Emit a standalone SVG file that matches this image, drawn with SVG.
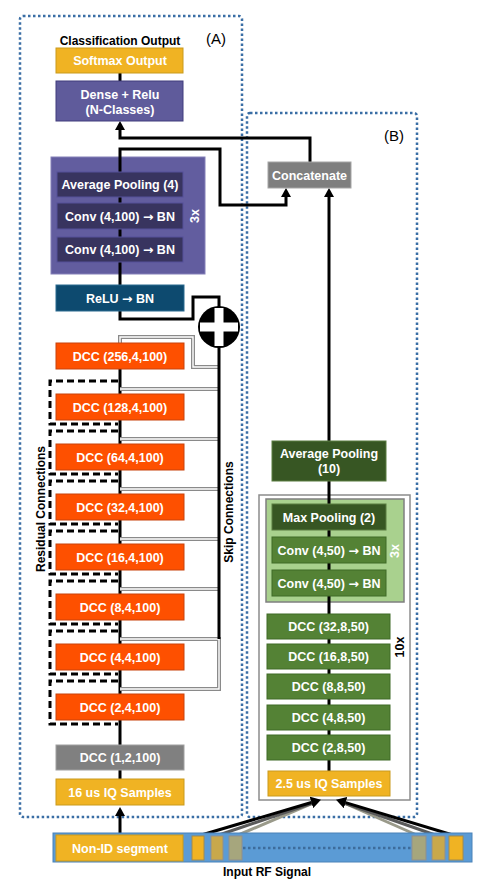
<svg xmlns="http://www.w3.org/2000/svg" width="488" height="886" viewBox="0 0 488 886">
<defs>
<style>
.lbl{font-family:"Liberation Sans",Arial,sans-serif;font-weight:bold;font-size:12.5px;fill:#fff;text-anchor:middle}
.ttl{font-family:"Liberation Sans",Arial,sans-serif;font-weight:bold;font-size:12px;fill:#000;text-anchor:middle}
.tag{font-family:"Liberation Sans",Arial,sans-serif;font-size:15px;fill:#000;text-anchor:middle}
.ar{font-family:"DejaVu Sans",sans-serif;font-weight:bold}
.orange{fill:#fe5000;stroke:#c8420c;stroke-width:1}
.gold{fill:#f0b323;stroke:#c99a1c;stroke-width:1}
.gray{fill:#808080;stroke:#a0a0a0;stroke-width:1}
.dkpurple{fill:#38345f;stroke:#55509a;stroke-width:1}
.purple{fill:#5f5b9b;stroke:#403c7c;stroke-width:1}
.teal{fill:#0d4a6f;stroke:#2a6a90;stroke-width:1}
.green{fill:#548235;stroke:#3f6a27;stroke-width:1}
.dkgreen{fill:#375623;stroke:#5a7d40;stroke-width:1}
.wire{stroke:#000;stroke-width:3;fill:none}
.skip{stroke:#8a8a8a;stroke-width:4;fill:none}
.skipin{stroke:#fff;stroke-width:1.4;fill:none}
.resid{stroke:#000;stroke-width:3;stroke-dasharray:7 4;fill:none}
.dots{fill:none;stroke:#3a6ea5;stroke-width:2.5;stroke-dasharray:2.5 2.5}
</style>
<marker id="arr" markerWidth="10" markerHeight="10" refX="0" refY="5" orient="auto" markerUnits="userSpaceOnUse">
<path d="M0,0 L9,5 L0,10 z" fill="#000"/>
</marker>
<marker id="arrB" markerWidth="12" markerHeight="12" refX="0" refY="6" orient="auto" markerUnits="userSpaceOnUse">
<path d="M0,0 L10,6 L0,12 z" fill="#000"/>
</marker>
</defs>
<rect width="488" height="886" fill="#fff"/>

<g id="frameA"><rect class="dots" x="20" y="16" width="222" height="801" rx="3"/><text class="tag" x="216" y="44">(A)</text></g>
<g id="frameB"><rect class="dots" x="247" y="113" width="170" height="704" rx="3"/><text class="tag" x="394" y="141">(B)</text></g>

<g id="block3xA"><rect x="51" y="157" width="154" height="117" fill="#625d9f" stroke="#8480b8" stroke-width="1"/>
<text class="lbl" transform="translate(199,216) rotate(-90)">3x</text></g>
<g id="containerB"><rect x="259" y="495" width="151" height="305" fill="#fff" stroke="#8c8c8c" stroke-width="1.5"/>
<text class="ttl" style="font-size:12.5px" transform="translate(404,647) rotate(-90)">10x</text></g>
<g id="block3xB"><rect x="266" y="499" width="138" height="103" fill="#a9d18e" stroke="#7f7f7f" stroke-width="1.5"/>
<text class="lbl" transform="translate(399,551) rotate(-90)">3x</text></g>

<g id="connectors">
<path class="wire" d="M120,73 V81"/>
<path class="wire" d="M310,162 V138 H120 V130" marker-end="url(#arr)"/>
<path class="wire" d="M120,285 V149 H220 V205 H286 V197" marker-end="url(#arr)"/>
<path class="wire" d="M329,441 V197" marker-end="url(#arr)"/>
<path class="wire" d="M329,481 V771"/>
<path class="wire" d="M120,311 V319 H193 V297 H219 V307"/>
<path class="wire" d="M120,369 V779"/>
<path class="wire" d="M120,835 V816" marker-end="url(#arr)"/>
<path class="skip" d="M120,343 V337 H193 V367 H219"/>
<path class="skipin" d="M120,343 V337 H193 V367 H219"/>
<path class="skip" d="M120,389 H219 M120,439 H219 M120,489 H219 M120,539 H219 M120,589 H219 M120,639 H219 M120,689 H219 V637"/>
<path class="skipin" d="M120,389 H219 M120,439 H219 M120,489 H219 M120,539 H219 M120,589 H219 M120,639 H219 M120,689 H219 V637"/>
<path class="wire" d="M219,346 V639"/>
<path class="resid" d="M118,381 H50 V424 H118"/>
<path class="resid" d="M118,431 H50 V474 H118"/>
<path class="resid" d="M118,481 H50 V524 H118"/>
<path class="resid" d="M118,531 H50 V574 H118"/>
<path class="resid" d="M118,581 H50 V624 H118"/>
<path class="resid" d="M118,631 H50 V674 H118"/>
<path class="resid" d="M118,681 H50 V724 H118"/>
<text class="ttl" transform="translate(45,509) rotate(-90)">Residual Connections</text>
<text class="ttl" transform="translate(233,512) rotate(-90)">Skip Connections</text>
<path d="M236,836 L313,803" stroke="#9a9a8a" stroke-width="3" fill="none"/>
<path d="M216,836 L313,803" stroke="#5a5a5a" stroke-width="3" fill="none"/>
<path d="M198,836 L311.4,802.5" stroke="#000" stroke-width="3" fill="none" marker-end="url(#arrB)"/>
<path d="M419,836 L344,803" stroke="#9a9a8a" stroke-width="3" fill="none"/>
<path d="M438,836 L344,803" stroke="#5a5a5a" stroke-width="3" fill="none"/>
<path d="M456,836 L345.6,802.6" stroke="#000" stroke-width="3" fill="none" marker-end="url(#arrB)"/>
</g>

<g id="classTitle"><text class="ttl" x="120" y="45">Classification Output</text></g>
<g id="softmax"><rect class="gold" x="56" y="48" width="127" height="25"/><text class="lbl" x="120" y="65">Softmax Output</text></g>
<g id="dense"><rect class="purple" x="56" y="81" width="127" height="40"/><text class="lbl" x="120" y="99">Dense + Relu</text><text class="lbl" x="120" y="114">(N-Classes)</text></g>
<g id="avgpool4"><rect class="dkpurple" x="57" y="172" width="126" height="25"/><text class="lbl" x="120" y="189">Average Pooling (4)</text></g>
<g id="convA1"><rect class="dkpurple" x="57" y="203" width="126" height="26"/><text class="lbl" x="120" y="220.5">Conv (4,100) <tspan class="ar">→</tspan> BN</text></g>
<g id="convA2"><rect class="dkpurple" x="57" y="237" width="126" height="25"/><text class="lbl" x="120" y="254">Conv (4,100) <tspan class="ar">→</tspan> BN</text></g>
<g id="relu"><rect class="teal" x="56" y="285" width="128" height="26"/><text class="lbl" x="120" y="302.5">ReLU <tspan class="ar">→</tspan> BN</text></g>
<g id="plus"><circle cx="219" cy="327" r="21" fill="#000"/><rect x="200" y="322.5" width="38" height="9" fill="#fff"/><rect x="214.5" y="308" width="9" height="38" fill="#fff"/></g>
<g id="dcc256"><rect class="orange" x="56" y="343" width="128" height="26"/><text class="lbl" x="120" y="360.5">DCC (256,4,100)</text></g>
<g id="dcc128"><rect class="orange" x="56" y="394" width="128" height="26"/><text class="lbl" x="120" y="411.5">DCC (128,4,100)</text></g>
<g id="dcc64"><rect class="orange" x="56" y="444" width="128" height="26"/><text class="lbl" x="120" y="461.5">DCC (64,4,100)</text></g>
<g id="dcc32"><rect class="orange" x="56" y="494" width="128" height="26"/><text class="lbl" x="120" y="511.5">DCC (32,4,100)</text></g>
<g id="dcc16"><rect class="orange" x="56" y="544" width="128" height="26"/><text class="lbl" x="120" y="561.5">DCC (16,4,100)</text></g>
<g id="dcc8"><rect class="orange" x="56" y="594" width="128" height="26"/><text class="lbl" x="120" y="611.5">DCC (8,4,100)</text></g>
<g id="dcc4"><rect class="orange" x="56" y="644" width="128" height="26"/><text class="lbl" x="120" y="661.5">DCC (4,4,100)</text></g>
<g id="dcc2"><rect class="orange" x="56" y="694" width="128" height="26"/><text class="lbl" x="120" y="711.5">DCC (2,4,100)</text></g>
<g id="dcc1"><rect class="gray" x="56" y="745" width="128" height="25"/><text class="lbl" x="120" y="762">DCC (1,2,100)</text></g>
<g id="iq16"><rect class="gold" x="56" y="779" width="128" height="26"/><text class="lbl" x="120" y="796.5">16 us IQ Samples</text></g>

<g id="concat"><rect x="268" y="162" width="83" height="26" fill="#7f7f7f" stroke="#a6a6a6" stroke-width="1"/><text class="lbl" x="309.5" y="179.5">Concatenate</text></g>
<g id="avgpool10"><rect class="dkgreen" x="272" y="441" width="114" height="40"/><text class="lbl" x="329" y="458">Average Pooling</text><text class="lbl" x="329" y="473">(10)</text></g>
<g id="maxpool"><rect class="dkgreen" x="272" y="504" width="114" height="26"/><text class="lbl" x="329" y="521.5">Max Pooling (2)</text></g>
<g id="convB1"><rect class="green" x="272" y="537" width="114" height="26"/><text class="lbl" x="329" y="554.5">Conv (4,50) <tspan class="ar">→</tspan> BN</text></g>
<g id="convB2"><rect class="green" x="272" y="570" width="114" height="26"/><text class="lbl" x="329" y="587.5">Conv (4,50) <tspan class="ar">→</tspan> BN</text></g>
<g id="dccB32"><rect class="green" x="267" y="614" width="123" height="25"/><text class="lbl" x="328.5" y="631">DCC (32,8,50)</text></g>
<g id="dccB16"><rect class="green" x="267" y="644" width="123" height="25"/><text class="lbl" x="328.5" y="661">DCC (16,8,50)</text></g>
<g id="dccB8"><rect class="green" x="267" y="674" width="123" height="25"/><text class="lbl" x="328.5" y="691">DCC (8,8,50)</text></g>
<g id="dccB4"><rect class="green" x="267" y="705" width="123" height="25"/><text class="lbl" x="328.5" y="722">DCC (4,8,50)</text></g>
<g id="dccB2"><rect class="green" x="267" y="735" width="123" height="25"/><text class="lbl" x="328.5" y="752">DCC (2,8,50)</text></g>
<g id="iq25"><rect class="gold" x="268" y="771" width="122" height="25"/><text class="lbl" x="329" y="788">2.5 us IQ Samples</text></g>

<g id="rfSignal">
<rect x="53" y="833" width="419" height="29" fill="#5b9bd5" stroke="#4a82b8" stroke-width="1"/>
<path d="M243,848 H412" stroke="#3d6c9c" stroke-width="2.5" stroke-dasharray="2.5 2.5" fill="none"/>
<rect x="192" y="836" width="12" height="24" fill="#f0b323" stroke="#a08a50"/>
<rect x="211" y="836" width="12" height="24" fill="#c8a84b" stroke="#8f8f8f"/>
<rect x="229" y="836" width="13" height="24" fill="#a6a67d" stroke="#8f8f8f"/>
<rect x="412" y="836" width="14" height="24" fill="#a6a67d" stroke="#8f8f8f"/>
<rect x="432" y="836" width="13" height="24" fill="#c8a84b" stroke="#8f8f8f"/>
<rect x="449" y="836" width="14" height="24" fill="#f0b323" stroke="#a08a50"/>
<text class="ttl" x="267" y="876">Input RF Signal</text>
</g>
<g id="nonid"><rect class="gold" x="56" y="835" width="127" height="26"/><text class="lbl" x="120" y="852.5">Non-ID segment</text></g>
</svg>
